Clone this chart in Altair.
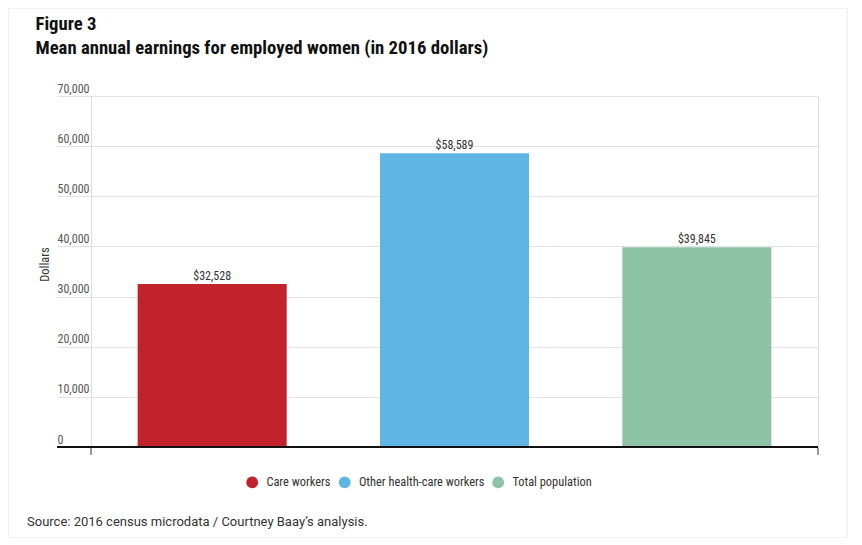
import altair as alt
import pandas as pd

categories = ["Care workers", "Other health-care workers", "Total population"]
values = [32528, 58589, 39845]
labels = ["$32,528", "$58,589", "$39,845"]
colors = ["#c2232a", "#5fb6e5", "#8fc3a7"]
y_ticks = [0, 10000, 20000, 30000, 40000, 50000, 60000, 70000]

NARROW = "Liberation Sans Narrow, Roboto Condensed, DejaVu Sans Condensed, sans-serif"

df = pd.DataFrame({"category": categories, "value": values, "label": labels})
one = pd.DataFrame({"v": [0]})

W, H = 727, 351

x_enc = alt.X("category:N", sort=categories, axis=None,
              scale=alt.Scale(paddingInner=0.385, paddingOuter=0.1925))
y_scale = alt.Scale(domain=[0, 70000], nice=False)

border = alt.Chart(one).mark_rect(fill="transparent", stroke="#e6e6e6", strokeWidth=1).encode(
    x=alt.value(-83), x2=alt.value(756), y=alt.value(-88), y2=alt.value(442)
)

bars = alt.Chart(df).mark_bar().encode(
    x=x_enc,
    y=alt.Y("value:Q", scale=y_scale,
            axis=alt.Axis(values=y_ticks, format=",d", title="Dollars",
                          domain=False, grid=True, gridColor="#e2e2e2", gridWidth=1,
                          ticks=True, tickSize=34, tickColor="#e2e2e2", tickWidth=1,
                          labelAlign="left", labelPadding=0, labelBaseline="alphabetic",
                          labelOffset=-4, labelFont=NARROW, labelFontSize=12,
                          labelColor="#555555",
                          titleFont=NARROW, titleFontSize=12.5, titleFontWeight="normal",
                          titleColor="#333333", titleX=-40, titleY=168,
                          titleAngle=270, titleAlign="center", titleBaseline="bottom")),
    color=alt.Color("category:N", sort=categories,
                    scale=alt.Scale(domain=categories, range=colors),
                    legend=alt.Legend(title=None, orient="none", direction="horizontal",
                                      legendX=155, legendY=380, symbolType="circle",
                                      symbolSize=140, symbolStrokeWidth=0,
                                      labelFont=NARROW, labelFontSize=12.4,
                                      labelColor="#333333", labelOffset=8,
                                      columnPadding=7.5, padding=0, labelLimit=300)),
)

text = alt.Chart(df).mark_text(baseline="bottom", dy=-1, font=NARROW, fontSize=12,
                               color="#333333").encode(
    x=x_enc,
    y=alt.Y("value:Q", scale=y_scale),
    text="label:N",
)

zero = alt.Chart(one).mark_rule(color="#111111", strokeWidth=2).encode(
    y=alt.Y(datum=0, scale=y_scale), x=alt.value(-34), x2=alt.value(W)
)

tick_l = alt.Chart(one).mark_rule(color="#777777", strokeWidth=1.5).encode(
    x=alt.value(0), y=alt.value(H + 1), y2=alt.value(H + 8)
)
tick_r = alt.Chart(one).mark_rule(color="#777777", strokeWidth=1.5).encode(
    x=alt.value(W), y=alt.value(H + 1), y2=alt.value(H + 8)
)

source = alt.Chart(one).mark_text(align="left", baseline="alphabetic", font="Roboto",
                                  fontSize=13, color="#333333").encode(
    x=alt.value(-64), y=alt.value(430),
    text=alt.value("Source: 2016 census microdata / Courtney Baay\u2019s analysis.")
)

chart = alt.layer(border, bars, text, zero, tick_l, tick_r, source).properties(
    width=W, height=H,
    title=alt.Title("Figure 3",
                    subtitle="Mean annual earnings for employed women (in 2016 dollars)",
                    anchor="start", frame="bounds", dx=28, offset=-50,
                    font=NARROW, fontSize=18.7, fontWeight="bold", color="#111111",
                    subtitleFont=NARROW, subtitleFontSize=18.7, subtitleFontWeight="bold",
                    subtitleColor="#111111", subtitlePadding=5),
    autosize=alt.AutoSizeParams(type="none"),
    padding={"left": 83, "top": 88, "right": 36, "bottom": 91},
).configure_view(stroke=None).configure(background="white")

chart.save("out.html", embed_options={"renderer": "svg", "actions": False})
